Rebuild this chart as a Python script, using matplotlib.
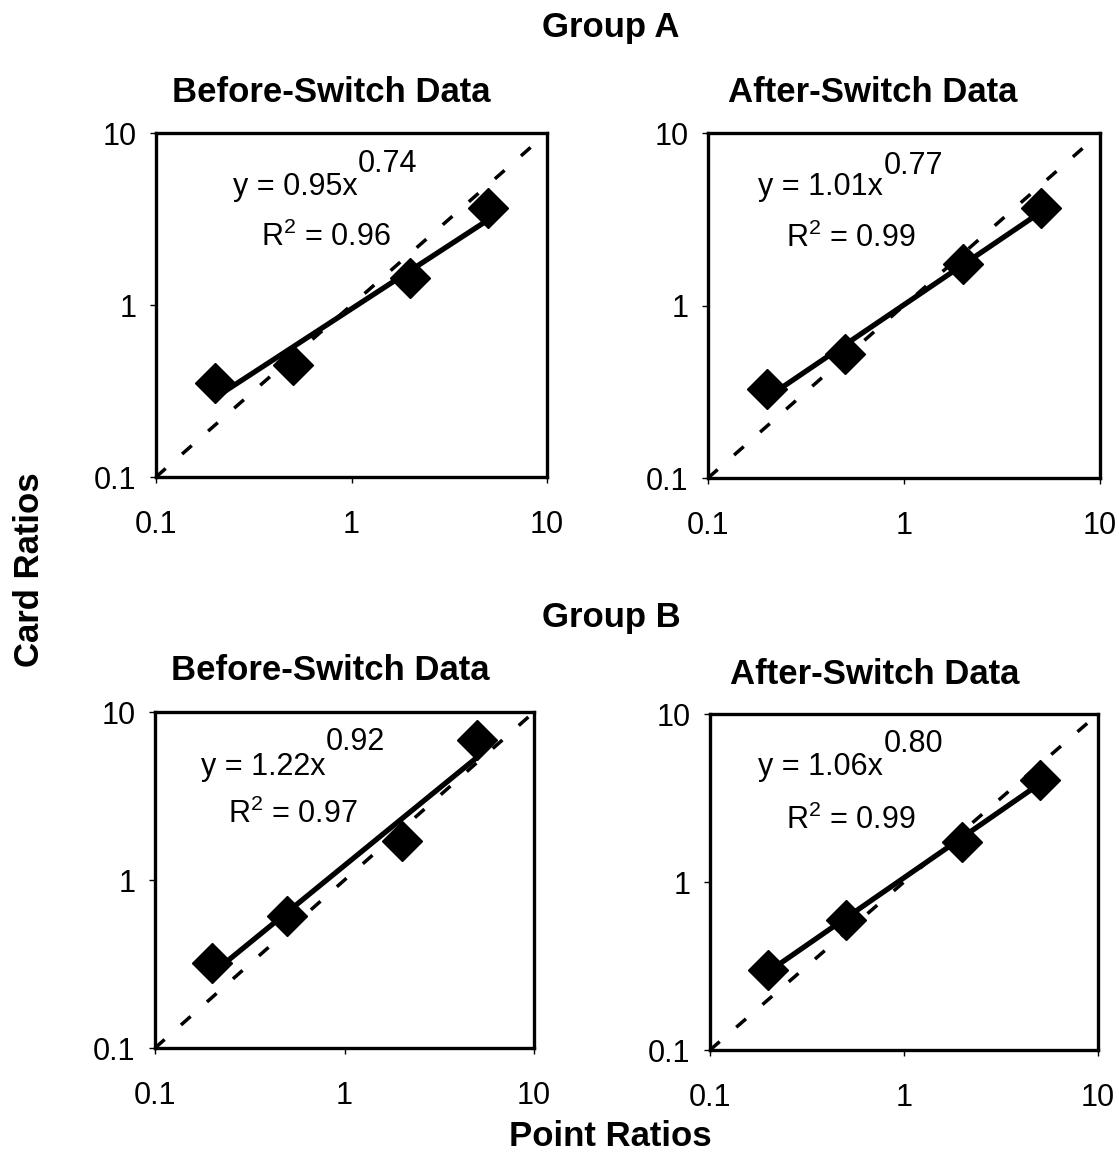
import matplotlib
matplotlib.use("Agg")
import matplotlib.pyplot as plt
import numpy as np

plt.rcParams['font.family'] = ['Liberation Sans', 'DejaVu Sans']
plt.rcParams['mathtext.fontset'] = 'custom'
plt.rcParams['mathtext.rm'] = 'Liberation Sans'
plt.rcParams['mathtext.it'] = 'Liberation Sans'

# Data
point_ratios = [0.2, 0.5, 2, 5]
card_A_before = [0.35, 0.45, 1.44, 3.66]
card_A_after = [0.33, 0.52, 1.74, 3.67]
card_B_before = [0.32, 0.61, 1.71, 6.8]
card_B_after = [0.30, 0.59, 1.73, 4.05]

coef_A_before, exp_A_before, r2_A_before = 0.95, 0.74, 0.96
coef_A_after, exp_A_after, r2_A_after = 1.01, 0.77, 0.99
coef_B_before, exp_B_before, r2_B_before = 1.22, 0.92, 0.97
coef_B_after, exp_B_after, r2_B_after = 1.06, 0.80, 0.99

W, H = 1119, 1154
fig = plt.figure(figsize=(W / 100, H / 100), dpi=100)


def box(x0, y0, x1, y1):
    return [x0 / W, 1 - y1 / H, (x1 - x0) / W, (y1 - y0) / H]


def ftext(x, y, s, **kw):
    fig.text(x / W, 1 - y / H, s, ha='center', va='center', **kw)


panels = [
    (box(156, 133, 547, 477), card_A_before, coef_A_before, exp_A_before, r2_A_before,
     (0.197, 0.82), (0.517, 0.887), (0.269, 0.672)),
    (box(708, 133, 1100, 478), card_A_after, coef_A_after, exp_A_after, r2_A_after,
     (0.127, 0.82), (0.448, 0.881), (0.198, 0.67)),
    (box(155, 712, 534, 1048), card_B_before, coef_B_before, exp_B_before, r2_B_before,
     (0.121, 0.8125), (0.451, 0.887), (0.193, 0.67)),
    (box(710, 714, 1098, 1050), card_B_after, coef_B_after, exp_B_after, r2_B_after,
     (0.124, 0.818), (0.448, 0.887), (0.196, 0.658)),
]

for rect, ys, c, e, r2, eqpos, suppos, r2pos in panels:
    ax = fig.add_axes(rect)
    ax.set_xscale('log')
    ax.set_yscale('log')
    ax.set_xlim(0.1, 10)
    ax.set_ylim(0.1, 10)
    # identity dashed line
    ax.plot([0.1, 10], [0.1, 10], color='black', lw=2.5, dashes=(3.7, 6.3),
            zorder=2, clip_on=False)
    # power fit line
    xf = np.array([point_ratios[0], point_ratios[-1]])
    ax.plot(xf, c * xf ** e, color='black', lw=3.8, zorder=3, solid_capstyle='butt')
    # data markers
    ax.plot(point_ratios, ys, linestyle='none', marker='D', ms=20,
            color='black', zorder=4, clip_on=False)
    for s in ax.spines.values():
        s.set_linewidth(2.4)
    ax.minorticks_off()
    ax.set_xticks([0.1, 1, 10])
    ax.set_yticks([0.1, 1, 10])
    ax.set_xticklabels(['0.1', '1', '10'])
    ax.set_yticklabels(['0.1', '1', '10'])
    ax.tick_params(axis='both', which='major', direction='out', length=4,
                   width=1, labelsize=22)
    ax.tick_params(axis='x', pad=20)
    ax.tick_params(axis='y', pad=10)
    ax.text(eqpos[0], eqpos[1], f'y = {c:.2f}x', transform=ax.transAxes,
            fontsize=22, ha='left', va='baseline')
    ax.text(suppos[0], suppos[1], f'{e:.2f}', transform=ax.transAxes,
            fontsize=22, ha='left', va='baseline')
    ax.text(r2pos[0], r2pos[1], r'R$^{2}$ = ' + f'{r2:.2f}', transform=ax.transAxes,
            fontsize=22, ha='left', va='baseline')

bold = dict(fontweight='bold', fontsize=25)
ftext(611, 27, 'Group A', **bold)
ftext(331, 92, 'Before-Switch Data', **bold)
ftext(873, 92, 'After-Switch Data', **bold)
ftext(611, 618, 'Group B', **bold)
ftext(330, 670, 'Before-Switch Data', **bold)
ftext(875, 675, 'After-Switch Data', **bold)
ftext(30, 570, 'Card Ratios', rotation=90, **bold)
ftext(610, 1137, 'Point Ratios', **bold)

fig.savefig('out.png', dpi=100, facecolor='white')
